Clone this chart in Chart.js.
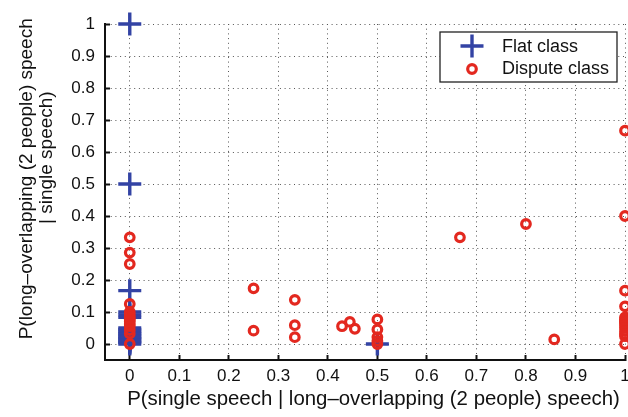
<!DOCTYPE html>
<html>
<head>
<meta charset="utf-8">
<script src="https://cdn.jsdelivr.net/npm/chart.js@4.4.1/dist/chart.umd.min.js"></script>
<style>
  html, body { margin: 0; padding: 0; background: #fff; }
</style>
</head>
<body>
<canvas id="scatter" width="628" height="417"></canvas>
<script>
'use strict';

// tick values (both axes)
var xTicks = [0, 0.1, 0.2, 0.3, 0.4, 0.5, 0.6, 0.7, 0.8, 0.9, 1];
var yTicks = [0, 0.1, 0.2, 0.3, 0.4, 0.5, 0.6, 0.7, 0.8, 0.9, 1];

// Flat class
var flatX = [0, 0, 0, 0, 0, 0, 0, 0, 0, 0, 0, 0, 0, 0, 0, 0, 0, 0, 0.5];
var flatY = [1, 0.5, 0.1667, 0.1, 0.0909, 0.0833, 0.05, 0.0455, 0.04, 0.0345, 0.0303, 0.025, 0.0208, 0.0167, 0.0125, 0.0083, 0.0042, 0, 0];

// Dispute class
var disputeX = [0, 0, 0, 0, 0, 0, 0, 0, 0, 0, 0, 0, 0, 0,
  0.25, 0.25, 0.3333, 0.3333, 0.3333, 0.4286, 0.4444, 0.4545,
  0.5, 0.5, 0.5, 0.5, 0.5, 0.6667, 0.8, 0.8571,
  1, 1, 1, 1, 1, 1, 1, 1, 1, 1, 1, 1, 1, 1];
var disputeY = [0.3333, 0.2857, 0.25, 0.125, 0.1, 0.0909, 0.0833, 0.0769, 0.0714, 0.0625, 0.0556, 0.0435, 0.0323, 0,
  0.1739, 0.0417, 0.1379, 0.0588, 0.0213, 0.0556, 0.069, 0.0476,
  0.0769, 0.0455, 0.0217, 0.0097, 0, 0.3333, 0.375, 0.0143,
  0.6667, 0.4, 0.1667, 0.1176, 0.0833, 0.0769, 0.0714, 0.0667, 0.0588, 0.05, 0.04, 0.0313, 0.0244, 0];

var blue = '#3343a4';
var red = '#e3281f';
var fontFamily = '"Liberation Sans", Arial, Helvetica, sans-serif';

function toPoints(xs, ys) {
  return xs.map(function(x, i) { return {x: x, y: ys[i]}; });
}

//凡例（グラフ内の枠付き）
var boxLegend = {
  id: 'boxLegend',
  afterDraw: function(chart) {
    var ctx = chart.ctx;
    var left = 440, top = 32, w = 177, h = 50;
    ctx.save();
    ctx.fillStyle = '#fff';
    ctx.fillRect(left, top, w, h);
    ctx.strokeStyle = '#222';
    ctx.lineWidth = 1.3;
    ctx.strokeRect(left, top, w, h);

    // plus marker
    ctx.strokeStyle = blue;
    ctx.lineWidth = 3.4;
    ctx.beginPath();
    ctx.moveTo(left + 20.5, top + 14); ctx.lineTo(left + 43.5, top + 14);
    ctx.moveTo(left + 32, top + 2.5); ctx.lineTo(left + 32, top + 25.5);
    ctx.stroke();

    // circle marker
    ctx.strokeStyle = red;
    ctx.lineWidth = 3.2;
    ctx.beginPath();
    ctx.arc(left + 32, top + 37, 4.3, 0, Math.PI * 2);
    ctx.stroke();

    ctx.fillStyle = '#111';
    ctx.font = '18px ' + fontFamily;
    ctx.textBaseline = 'middle';
    ctx.fillText(chart.data.datasets[0].label, left + 62, top + 15);
    ctx.fillText(chart.data.datasets[1].label, left + 62, top + 37);
    ctx.restore();
  }
};

function axisOptions(tickValues, isX) {
  return {
    type: 'linear',
    min: -0.05,
    max: 1,
    afterBuildTicks: function(scale) {
      scale.ticks = tickValues.map(function(v) { return {value: v}; });
    },
    afterFit: function(scale) {
      if (isX) {
        scale.height = 57;
        scale.paddingLeft = 0;
        scale.paddingRight = 0;
      } else {
        scale.width = 105;
        scale.paddingTop = 0;
        scale.paddingBottom = 0;
      }
    },
    grid: {
      color: '#555',
      lineWidth: 1,
      drawTicks: true,
      tickLength: -5,
      tickColor: '#111',
      tickWidth: 2,
      tickBorderDash: []
    },
    border: {
      display: true,
      color: '#111',
      width: 2,
      dash: [1, 3.7]
    },
    ticks: {
      padding: isX ? 11 : 15,
      color: '#111',
      autoSkip: false,
      maxRotation: 0,
      font: {family: fontFamily, size: 17},
      callback: function(v) { return String(v); }
    }
  };
}

var xAxis = axisOptions(xTicks, true);
xAxis.title = {
  display: true,
  text: '   P(single speech | long–overlapping (2 people) speech)',
  color: '#111',
  font: {family: fontFamily, size: 20.4, lineHeight: 1},
  padding: {top: 0, bottom: 7}
};

var yAxis = axisOptions(yTicks, false);
yAxis.title = {
  display: true,
  text: ['     P(long–overlapping (2 people) speech', '             | single speech)'],
  color: '#111',
  font: {family: fontFamily, size: 19, lineHeight: 20 / 19},
  padding: {top: 17, bottom: 0}
};

var ctx = document.getElementById('scatter');
var myChart = new Chart(ctx, {
  type: 'scatter',
  data: {
    datasets: [{
      label: 'Flat class',
      data: toPoints(flatX, flatY),
      pointStyle: 'cross',
      pointRadius: 11.5,
      pointHoverRadius: 11.5,
      pointBorderWidth: 3.4,
      pointBorderColor: blue,
      pointBackgroundColor: blue,
      borderColor: blue,
      clip: false,
      order: 1
    }, {
      label: 'Dispute class',
      data: toPoints(disputeX, disputeY),
      pointStyle: 'circle',
      pointRadius: 4.3,
      pointHoverRadius: 4.3,
      pointBorderWidth: 3.2,
      pointBorderColor: red,
      pointBackgroundColor: 'rgba(0,0,0,0)',
      borderColor: red,
      clip: false,
      order: 0
    }]
  },
  options: {
    responsive: false,
    animation: false,
    devicePixelRatio: 1,
    layout: {
      autoPadding: false,
      padding: {left: 0, right: 3, top: 24, bottom: 0}
    },
    plugins: {
      legend: {display: false},
      tooltip: {enabled: false}
    },
    scales: {
      x: xAxis,
      y: yAxis
    }
  },
  plugins: [boxLegend]
});
</script>
</body>
</html>
